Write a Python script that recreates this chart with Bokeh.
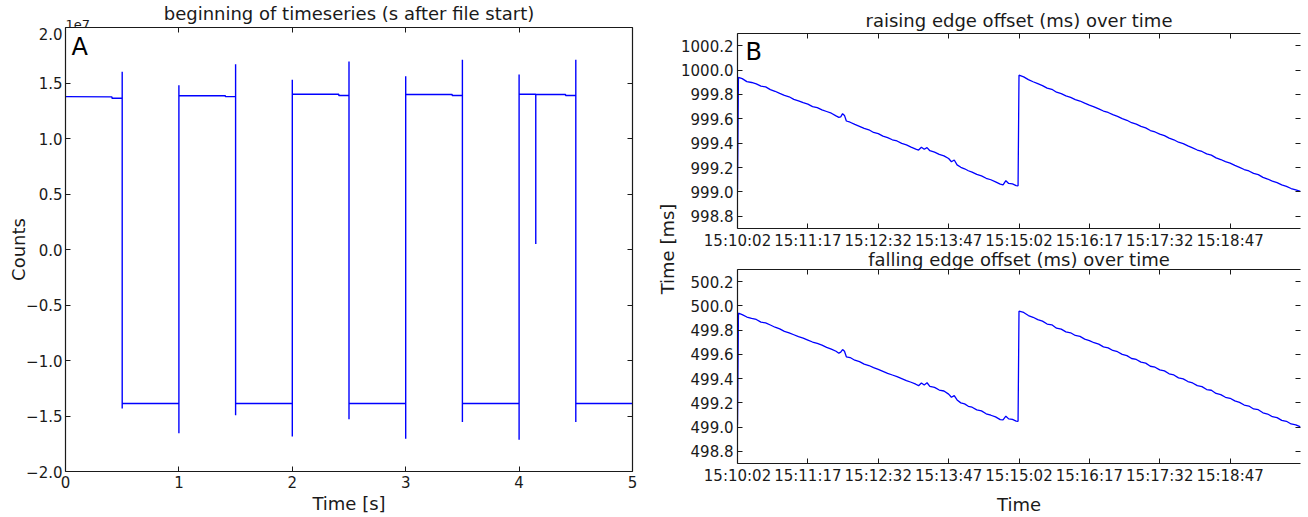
import math
import pandas as pd
from bokeh.plotting import figure
from bokeh.layouts import row, column
from bokeh.models import (Range1d, FixedTicker, LinearAxis, DatetimeAxis, Label,
                          PrintfTickFormatter, DatetimeTickFormatter)
from bokeh.embed import file_html
from bokeh.resources import INLINE

FONT = "DejaVu Sans"
LINE_COLOR = "#0000ff"
INK = "#1a1a1a"

# ---------------- Panel A: raw counts at the start of the file ----------------
a_time_s = [
    0.0, 0.41, 0.41, 0.5, 0.5, 0.5, 0.5, 1.0, 1.0, 1.0, 1.0,
    1.41, 1.41, 1.5, 1.5, 1.5, 1.5, 2.0, 2.0, 2.0, 2.0,
    2.41, 2.41, 2.5, 2.5, 2.5, 2.5, 3.0, 3.0, 3.0, 3.0,
    3.41, 3.41, 3.5, 3.5, 3.5, 3.5, 4.0, 4.0, 4.0, 4.0,
    4.147, 4.147, 4.147,
    4.41, 4.41, 4.5, 4.5, 4.5, 4.5, 5.0,
]
a_counts = [
    1.377e7, 1.375e7, 1.362e7, 1.362e7, 1.601e7, -1.433e7, -1.388e7, -1.388e7, -1.655e7, 1.479e7, 1.387e7,
    1.385e7, 1.377e7, 1.377e7, 1.669e7, -1.494e7, -1.388e7, -1.388e7, -1.685e7, 1.530e7, 1.400e7,
    1.398e7, 1.387e7, 1.387e7, 1.693e7, -1.530e7, -1.388e7, -1.388e7, -1.706e7, 1.561e7, 1.399e7,
    1.397e7, 1.387e7, 1.387e7, 1.709e7, -1.555e7, -1.388e7, -1.388e7, -1.715e7, 1.577e7, 1.399e7,
    1.398e7, 0.05e7, 1.398e7,
    1.397e7, 1.387e7, 1.387e7, 1.709e7, -1.555e7, -1.388e7, -1.388e7,
]
a_xticks = [0, 1, 2, 3, 4, 5]
a_yticks = [-20000000, -15000000, -10000000, -5000000, 0, 5000000, 10000000, 15000000, 20000000]
a_ytick_labels = ["\u22122.0", "\u22121.5", "\u22121.0", "\u22120.5", "0.0", "0.5", "1.0", "1.5", "2.0"]
a_scale_text = "1e7"

# ---------------- Panel B: edge offsets over ten minutes ----------------
b_date = "2014-06-16"
b_start = "15:10:02"
b_window_s = 600
b_offset_s = [
    0, 1, 5, 10, 15, 20, 25, 30, 35, 40,
    45, 50, 55, 60, 65, 70, 75, 80, 85, 90,
    95, 100, 105, 108, 110, 112, 114, 116, 120, 125,
    130, 135, 140, 145, 150, 155, 160, 165, 170, 175,
    180, 185, 190, 193, 196, 199, 202, 205, 210, 215,
    220, 225, 228, 231, 234, 238, 242, 246, 250, 255,
    260, 265, 270, 275, 280, 283, 286, 289, 293, 297,
    299, 300, 305, 310, 315, 320, 325, 330, 335, 340,
    345, 350, 355, 360, 365, 370, 375, 380, 385, 390,
    395, 400, 405, 410, 415, 420, 425, 430, 435, 440,
    445, 450, 455, 460, 465, 470, 475, 480, 485, 490,
    495, 500, 505, 510, 515, 520, 525, 530, 535, 540,
    545, 550, 555, 560, 565, 570, 575, 580, 585, 590,
    595, 600,
]
rise_ms = [
    999.02, 999.94, 999.93, 999.905, 999.898, 999.886, 999.868, 999.862, 999.84, 999.826,
    999.808, 999.792, 999.781, 999.76, 999.748, 999.732, 999.72, 999.70, 999.692, 999.674,
    999.66, 999.646, 999.624, 999.612, 999.616, 999.642, 999.628, 999.582, 999.572, 999.554,
    999.538, 999.522, 999.51, 999.488, 999.478, 999.458, 999.446, 999.428, 999.418, 999.398,
    999.386, 999.368, 999.352, 999.344, 999.366, 999.35, 999.364, 999.338, 999.326, 999.308,
    999.296, 999.274, 999.248, 999.262, 999.222, 999.202, 999.19, 999.174, 999.162, 999.144,
    999.132, 999.112, 999.10, 999.082, 999.064, 999.058, 999.092, 999.07, 999.066, 999.052,
    999.05, 999.958, 999.944, 999.922, 999.904, 999.888, 999.872, 999.852, 999.842, 999.818,
    999.806, 999.788, 999.776, 999.758, 999.746, 999.728, 999.712, 999.698, 999.682, 999.664,
    999.652, 999.634, 999.62, 999.602, 999.588, 999.568, 999.556, 999.538, 999.526, 999.504,
    999.492, 999.474, 999.462, 999.442, 999.428, 999.408, 999.396, 999.378, 999.362, 999.344,
    999.332, 999.312, 999.302, 999.28, 999.266, 999.248, 999.236, 999.218, 999.202, 999.184,
    999.172, 999.152, 999.142, 999.12, 999.106, 999.088, 999.076, 999.058, 999.046, 999.028,
    999.016, 999.004,
]
fall_ms = [
    499.02, 499.94, 499.928, 499.908, 499.896, 499.888, 499.866, 499.86, 499.842, 499.824,
    499.81, 499.79, 499.778, 499.762, 499.746, 499.734, 499.718, 499.702, 499.69, 499.676,
    499.658, 499.644, 499.626, 499.61, 499.618, 499.64, 499.626, 499.58, 499.574, 499.552,
    499.54, 499.52, 499.508, 499.49, 499.476, 499.46, 499.444, 499.43, 499.416, 499.40,
    499.384, 499.37, 499.354, 499.342, 499.364, 499.348, 499.366, 499.336, 499.328, 499.306,
    499.298, 499.272, 499.246, 499.26, 499.224, 499.2, 499.192, 499.172, 499.164, 499.142,
    499.134, 499.11, 499.098, 499.084, 499.062, 499.06, 499.09, 499.068, 499.064, 499.05,
    499.048, 499.956, 499.946, 499.92, 499.906, 499.886, 499.874, 499.85, 499.844, 499.816,
    499.808, 499.786, 499.778, 499.756, 499.748, 499.726, 499.714, 499.696, 499.684, 499.662,
    499.654, 499.632, 499.622, 499.6, 499.59, 499.566, 499.558, 499.536, 499.528, 499.502,
    499.494, 499.472, 499.464, 499.44, 499.43, 499.406, 499.398, 499.376, 499.364, 499.342,
    499.334, 499.31, 499.304, 499.278, 499.268, 499.246, 499.238, 499.216, 499.204, 499.182,
    499.174, 499.15, 499.144, 499.118, 499.108, 499.086, 499.078, 499.056, 499.048, 499.026,
    499.018, 499.002,
]
b_xtick_labels = ["15:10:02", "15:11:17", "15:12:32", "15:13:47",
                  "15:15:02", "15:16:17", "15:17:32", "15:18:47"]
rise_yticks = [998.8, 999.0, 999.2, 999.4, 999.6, 999.8, 1000.0, 1000.2]
fall_yticks = [498.8, 499.0, 499.2, 499.4, 499.6, 499.8, 500.0, 500.2]
rise_ylim = (998.7, 1000.3)
fall_ylim = (498.7, 500.3)

t0 = pd.Timestamp(f"{b_date} {b_start}")
b_time = (t0 + pd.to_timedelta(b_offset_s, unit="s")).values
b_xticks_ms = [pd.Timestamp(f"{b_date} {lab}").value / 1e6 for lab in b_xtick_labels]
b_x0 = t0.value / 1e6
b_x1 = b_x0 + b_window_s * 1000.0


def style_axis(ax, show_labels=True, show_line=True):
    ax.axis_line_color = INK if show_line else None
    ax.axis_line_width = 1.2
    ax.major_tick_in = 5
    ax.major_tick_out = 0
    ax.major_tick_line_color = INK
    ax.major_tick_line_width = 1
    ax.minor_tick_line_color = None
    ax.major_label_text_font = FONT
    ax.major_label_text_color = INK
    ax.axis_label_text_font = FONT
    ax.axis_label_text_font_style = "normal"
    ax.axis_label_text_font_size = "18px"
    ax.axis_label_text_color = INK
    if show_labels:
        ax.major_label_text_font_size = "15px"
        ax.major_label_standoff = 4
    else:
        ax.major_label_text_font_size = "0px"
        ax.major_label_text_color = None
        ax.major_label_standoff = 0


def plain(p):
    p.grid.visible = False
    p.outline_line_color = None
    p.background_fill_color = "white"
    p.border_fill_color = "white"
    return p


def text_strip(w, h, xr, left, right):
    """A bare canvas used only to carry free-standing text."""
    p = figure(width=w, height=h, x_range=xr, y_range=Range1d(0, 1),
               x_axis_location=None, y_axis_location=None,
               output_backend="svg", toolbar_location=None,
               min_border_left=left, min_border_right=right,
               min_border_top=0, min_border_bottom=0)
    return plain(p)


def base_figure(w, h, xr, yr, left, right, top, bottom, x_type="linear"):
    p = figure(width=w, height=h, x_range=xr, y_range=yr, x_axis_type=x_type,
               output_backend="svg", toolbar_location=None,
               min_border_left=left, min_border_right=right,
               min_border_top=top, min_border_bottom=bottom)
    return plain(p)


def heading(p, text, standoff):
    p.title.text = text
    p.title.align = "center"
    p.title.text_font = FONT
    p.title.text_font_size = "18px"
    p.title.text_font_style = "normal"
    p.title.text_color = INK
    p.title.standoff = standoff


# ---- Panel A ----
a_xrange = Range1d(0, 5)

# heading strip over panel A: title and the axis multiplier
pa_head = text_strip(656, 33, a_xrange, 65, 24)
pa_head.add_layout(Label(x=2.5, y=0.62, text="beginning of timeseries (s after file start)",
                         text_align="center", text_baseline="middle",
                         text_font=FONT, text_font_size="18px", text_color=INK))
pa_head.add_layout(Label(x=0, y=0.27, text=a_scale_text,
                         text_align="left", text_baseline="middle",
                         text_font=FONT, text_font_size="13px", text_color=INK))

pa = base_figure(656, 490, a_xrange, Range1d(-2e7, 2e7), 65, 24, 0, 46)
pa.margin = (-6, 0, 0, 0)          # tuck the tick-only top axis under the strip
pa.border_fill_alpha = 0
pa.line(a_time_s, a_counts, line_color=LINE_COLOR, line_width=1.4)

pa.xaxis.ticker = FixedTicker(ticks=a_xticks)
pa.yaxis.ticker = FixedTicker(ticks=a_yticks)
pa.yaxis.major_label_overrides = dict(zip(a_yticks, a_ytick_labels))
pa.xaxis.axis_label = "Time [s]"
pa.yaxis.axis_label = "Counts"
for ax in pa.xaxis + pa.yaxis:
    style_axis(ax)
pa.yaxis.major_label_standoff = 3
pa.xaxis.axis_label_standoff = 2
pa.yaxis.axis_label_standoff = -6
a_top = LinearAxis(ticker=FixedTicker(ticks=a_xticks))
a_right = LinearAxis(ticker=FixedTicker(ticks=a_yticks))
style_axis(a_top, show_labels=False)
style_axis(a_right, show_labels=False)
pa.add_layout(a_top, "above")
pa.add_layout(a_right, "right")
pa.add_layout(Label(x=0, y=2e7, x_offset=6, y_offset=-5, text="A",
                    text_baseline="top", text_align="left",
                    text_font=FONT, text_font_size="24px", text_color="black"))

# shared y-axis title for the two offset panels
ylab = text_strip(22, 517, Range1d(0, 1), 0, 0)
ylab.add_layout(Label(x=0.5, y=0.5, y_offset=10, text="Time [ms]", angle=math.pi / 2,
                      text_align="center", text_baseline="middle",
                      text_font=FONT, text_font_size="18px", text_color=INK))


def offset_panel(h, values, yticks, ylim, top, bottom, xlabel=None):
    p = base_figure(630, h, Range1d(b_x0, b_x1), Range1d(*ylim),
                    57, 8, top, bottom, x_type="datetime")
    p.line(b_time, values, line_color=LINE_COLOR, line_width=1.3)
    fmt = DatetimeTickFormatter(seconds="%H:%M:%S", minsec="%H:%M:%S",
                                minutes="%H:%M:%S", hourmin="%H:%M:%S",
                                hours="%H:%M:%S")
    p.xaxis.ticker = FixedTicker(ticks=b_xticks_ms)
    p.xaxis.formatter = fmt
    p.yaxis.ticker = FixedTicker(ticks=yticks)
    p.yaxis.formatter = PrintfTickFormatter(format="%.1f")
    for ax in p.xaxis + p.yaxis:
        style_axis(ax)
    p.xaxis.major_label_standoff = 3
    if xlabel:
        p.xaxis.axis_label = xlabel
        p.xaxis.axis_label_standoff = 6
    top_ax = DatetimeAxis(ticker=FixedTicker(ticks=b_xticks_ms))
    right_ax = LinearAxis(ticker=FixedTicker(ticks=yticks))
    style_axis(top_ax, show_labels=False)
    style_axis(right_ax, show_labels=False, show_line=False)
    p.add_layout(top_ax, "above")
    p.add_layout(right_ax, "right")
    return p


pb1 = offset_panel(252, rise_ms, rise_yticks, rise_ylim, 33, 24)
heading(pb1, "raising edge offset (ms) over time", 5)
pb1.add_layout(Label(x=b_x0, y=rise_ylim[1], x_offset=8, y_offset=-4, text="B",
                     text_baseline="top", text_align="left",
                     text_font=FONT, text_font_size="24px", text_color="black"))

pb2 = offset_panel(284, fall_ms, fall_yticks, fall_ylim, 36, 53, xlabel="Time")
heading(pb2, "falling edge offset (ms) over time", 0)
pb2.margin = (-19, 0, 0, 0)        # heading overlaps the empty strip under the upper panel
pb2.border_fill_alpha = 0

layout = row(column(pa_head, pa, spacing=0), ylab, column(pb1, pb2, spacing=0), spacing=0)

with open("out.html", "w") as f:
    f.write(file_html(layout, INLINE))
